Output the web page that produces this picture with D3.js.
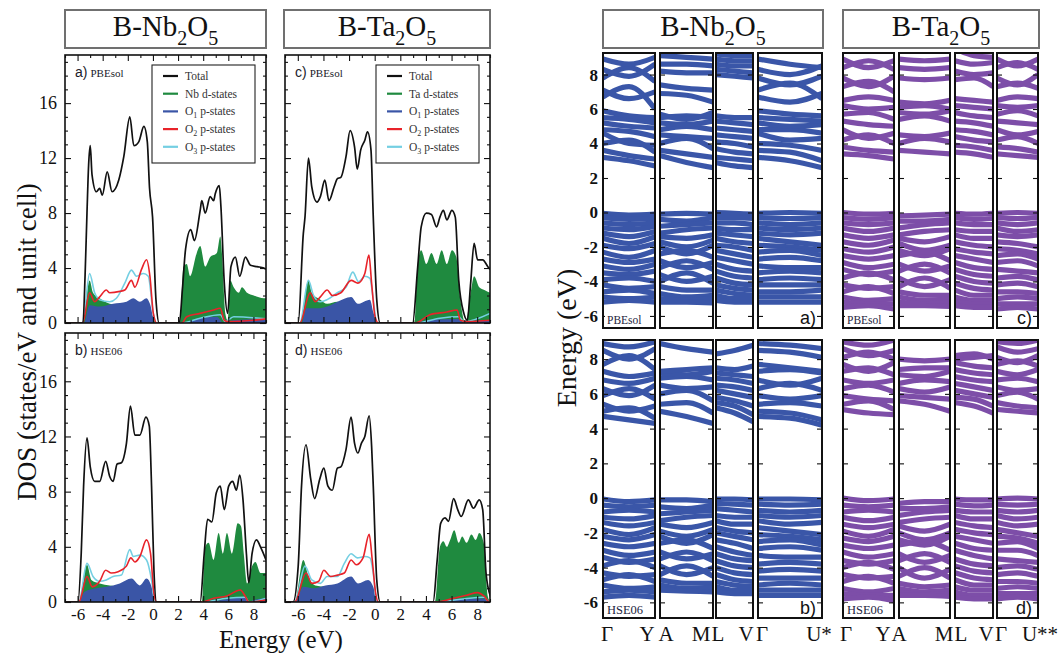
<!DOCTYPE html>
<html><head><meta charset="utf-8">
<script src="https://cdn.jsdelivr.net/npm/d3@7"></script>
<style>body{margin:0;background:#fff}svg{display:block}</style>
</head><body>
<svg id="chart" width="1060" height="653"></svg>
<script>
// ---------------- DATA ----------------
const dosEnergyDomain = [-7, 9];
const dosValueDomain = [0, 19.5];
const dosEnergyTicks = [-6, -4, -2, 0, 2, 4, 6, 8];
const dosEnergyMinor = [-7, -5, -3, -1, 1, 3, 5, 7, 9];
const dosValueTicks = [0, 4, 8, 12, 16];
const dosValueMinor = [1, 2, 3, 5, 6, 7, 9, 10, 11, 13, 14, 15, 17, 18, 19];
const legendLabelsNb = ["Total", "Nb d-states", "O1 p-states", "O2 p-states", "O3 p-states"];
const legendLabelsTa = ["Total", "Ta d-states", "O1 p-states", "O2 p-states", "O3 p-states"];

// DOS: [energy (eV), states/eV]
const nbPbeTotal = [[-7,0],[-5.57,0],[-5.4,3.5],[-5.25,8],[-5.12,11.5],[-4.99,12.9],[-4.85,10.8],[-4.5,9.55],[-4.24,9.8],[-4.03,9.3],[-3.64,11.0],[-3.25,9.55],[-2.72,10.4],[-2.32,12.1],[-1.84,15.0],[-1.52,12.9],[-1.12,13.2],[-0.72,14.3],[-0.45,13.2],[-0.27,9.8],[-0.03,7.7],[0.24,1.7],[0.5,0],[2.1,0],[2.35,2.5],[2.6,5.4],[3.01,6.8],[3.3,6.0],[3.76,8.2],[3.89,8.9],[4.16,8.0],[4.56,9.2],[4.83,8.9],[4.96,9.4],[5.28,10.0],[5.41,8.5],[5.68,2.9],[5.95,0.7],[6.21,4.1],[6.56,4.8],[6.91,3.4],[7.36,4.8],[7.76,4.2],[8.29,4.1],[8.83,4.0],[9,3.9]];
const nbPbeD = [[-7,0],[-5.6,0],[-5.35,1.5],[-5.04,3.1],[-4.77,2.2],[-4.24,1.8],[-3.44,1.4],[-2.64,1.3],[-1.57,1.3],[-0.51,0.9],[-0.1,0.6],[0.3,0],[2.15,0],[2.43,4.1],[2.69,4.3],[2.96,3.4],[3.49,5.1],[3.76,5.6],[4.16,4.1],[4.56,4.8],[5.09,5.1],[5.36,6.3],[5.49,5.1],[5.76,0.7],[5.95,0.2],[6.16,3.1],[6.43,2.6],[6.83,2.2],[7.09,2.6],[7.49,2.2],[8.03,2.0],[8.83,1.8],[9,1.8]];
const nbPbeO1 = [[-7,0],[-5.5,0],[-5.04,1.3],[-4.24,1.2],[-3.17,1.4],[-2.1,1.55],[-1.57,1.8],[-1.04,1.55],[-0.51,1.8],[-0.24,1.4],[0.16,0],[2.3,0],[3.76,0.35],[5.09,0.45],[5.6,0],[6.43,0.2],[9,0.3]];
const nbPbeO2 = [[-7,0],[-5.6,0],[-5.04,2.2],[-4.64,1.55],[-4.24,1.9],[-3.71,2.4],[-3.44,2.2],[-2.64,2.3],[-2.24,2.4],[-1.71,3.1],[-1.44,2.6],[-0.91,3.9],[-0.51,4.6],[-0.24,3.4],[0.03,0.7],[0.3,0],[2.3,0],[2.69,0.46],[3.76,0.7],[4.83,0.95],[5.36,1.07],[5.68,0.2],[6.0,0.1],[8.03,0.2],[9,0.3]];
const nbPbeO3 = [[-7,0],[-5.6,0],[-5.04,3.6],[-4.64,2.2],[-4.24,1.7],[-3.44,1.55],[-2.91,1.8],[-2.24,2.9],[-1.71,3.85],[-1.31,3.4],[-0.77,3.6],[-0.37,3.4],[0.03,0.7],[0.3,0],[2.3,0],[3.76,0.35],[5.36,0.6],[5.76,0.1],[6.43,0.45],[9,0.3]];

const taPbeTotal = [[-7,0],[-5.97,0],[-5.57,6.5],[-5.44,7.7],[-5.17,12.0],[-4.91,9.9],[-4.51,8.8],[-4.24,9.2],[-3.89,10.4],[-3.57,8.9],[-3.17,9.9],[-2.91,10.5],[-2.64,10.6],[-2.24,12.1],[-1.92,14.0],[-1.57,12.8],[-1.36,11.2],[-1.09,12.6],[-0.77,13.3],[-0.56,13.9],[-0.29,12.6],[-0.11,7.7],[0.16,1.7],[0.43,0],[2.96,0],[3.36,4.1],[3.63,7.0],[4.03,8.0],[4.43,7.9],[4.83,7.0],[5.09,7.7],[5.36,8.2],[5.63,7.5],[6.03,8.2],[6.29,7.7],[6.56,3.1],[6.96,0.7],[7.23,0.2],[7.49,2.9],[7.76,5.8],[8.03,4.6],[8.43,4.6],[8.83,4.1],[9,3.9]];
const taPbeD = [[-7,0],[-5.84,0],[-5.17,3.1],[-4.91,2.2],[-4.24,1.7],[-3.71,1.4],[-2.91,1.55],[-2.11,1.3],[-0.77,1.2],[-0.11,0.6],[0.2,0],[3.1,0],[3.36,4.3],[3.63,5.3],[4.03,4.3],[4.43,5.1],[4.83,4.3],[5.23,5.3],[5.63,4.3],[6.03,5.3],[6.37,4.8],[6.69,1.7],[7.09,0],[7.49,2.2],[7.76,3.4],[8.16,2.6],[8.56,2.4],[9,2.2]];
const taPbeO1 = [[-7,0],[-5.7,0],[-5.33,1.07],[-4.51,1.07],[-3.44,1.3],[-2.91,1.55],[-1.84,1.9],[-1.31,1.4],[-0.37,1.7],[-0.11,0.8],[0.2,0],[3.1,0],[4.5,0.25],[6.5,0.3],[7.0,0],[7.5,0.15],[9,0.2]];
const taPbeO2 = [[-7,0],[-5.84,0],[-5.04,2.2],[-4.64,1.55],[-4.24,1.9],[-3.71,2.4],[-3.31,2.0],[-2.64,2.2],[-1.84,3.1],[-1.31,2.9],[-0.77,3.6],[-0.45,4.95],[-0.24,2.9],[0.03,0.46],[0.3,0],[3.2,0],[4.3,0.6],[5.63,0.8],[6.43,0.95],[6.69,0.2],[7.2,0.1],[9,0.2]];
const taPbeO3 = [[-7,0],[-5.84,0],[-5.17,3.1],[-4.77,2.0],[-4.24,1.55],[-3.71,1.7],[-2.91,2.2],[-2.24,2.6],[-1.71,3.7],[-1.25,3.0],[-0.77,3.4],[-0.37,3.25],[-0.11,1.7],[0.16,0],[3.2,0],[5.09,0.35],[6.56,0.45],[6.96,0.1],[9,0.7]];

const nbHseTotal = [[-7,0],[-5.97,0],[-5.71,3.5],[-5.52,8.4],[-5.25,11.9],[-4.99,9.8],[-4.64,8.75],[-4.24,8.75],[-3.76,10.2],[-3.44,9.1],[-3.17,8.75],[-2.85,10.0],[-2.51,10.1],[-2.11,11.5],[-1.79,14.2],[-1.44,12.1],[-1.04,12.1],[-0.56,13.4],[-0.29,12.75],[-0.11,8.4],[0.08,2.3],[0.29,0],[3.76,0],[4.08,3.5],[4.35,6.0],[4.69,5.8],[5.04,7.9],[5.36,8.4],[5.68,6.7],[6.03,8.4],[6.35,8.75],[6.64,8.1],[6.91,9.2],[7.17,7.4],[7.44,3.5],[7.63,1.4],[7.89,3.5],[8.24,4.5],[8.56,4.0],[9,3.05]];
const nbHseD = [[-7,0],[-5.9,0],[-5.25,2.7],[-4.9,1.6],[-4.24,1.35],[-3.44,1.2],[-2.11,1.1],[-0.51,0.9],[0.03,0],[3.9,0],[4.16,4.0],[4.43,4.3],[4.83,3.05],[5.23,5.0],[5.57,3.5],[5.89,5.0],[6.29,3.5],[6.75,5.7],[7.01,5.5],[7.23,3.5],[7.49,1.35],[7.89,2.6],[8.16,2.9],[8.56,2.1],[9,2.1]];
const nbHseO1 = [[-7,0],[-5.9,0],[-5.44,0.75],[-4.51,1.0],[-3.71,1.1],[-2.64,1.35],[-1.71,1.7],[-1.04,1.2],[-0.51,1.7],[-0.11,1.1],[0.16,0],[4.0,0],[6.43,0.27],[7.36,0.34],[7.63,0],[8.03,0.15],[9,0.27]];
const nbHseO2 = [[-7,0],[-5.9,0],[-5.25,1.85],[-4.83,1.1],[-4.24,1.5],[-3.76,2.3],[-3.31,2.1],[-2.77,2.2],[-2.11,2.6],[-1.76,3.2],[-1.44,2.9],[-1.04,3.3],[-0.51,4.5],[-0.19,3.5],[0.08,0.6],[0.29,0],[3.9,0],[4.83,0.27],[5.89,0.44],[6.96,0.87],[7.36,0.4],[7.63,0],[9,0.15]];
const nbHseO3 = [[-7,0],[-5.9,0],[-5.25,2.8],[-4.77,1.85],[-4.24,1.5],[-3.71,1.6],[-3.17,1.85],[-2.51,1.95],[-1.84,3.8],[-1.57,3.3],[-1.04,3.4],[-0.51,3.05],[-0.11,1.6],[0.16,0],[4.0,0],[5.89,0.27],[7.36,0.34],[7.63,0],[9,0.27]];

const taHseTotal = [[-7,0],[-6.37,0],[-5.97,2.6],[-5.71,8.4],[-5.36,11.4],[-4.99,8.9],[-4.69,7.5],[-4.29,8.9],[-3.97,9.7],[-3.65,8.4],[-3.31,8.1],[-2.91,9.7],[-2.64,9.8],[-2.24,11.05],[-1.84,13.4],[-1.57,11.5],[-1.31,10.8],[-1.04,11.5],[-0.77,12.0],[-0.43,13.5],[-0.24,11.3],[-0.11,8.4],[0.16,1.6],[0.43,0],[4.56,0],[4.88,3.05],[5.15,5.7],[5.49,6.1],[5.76,5.85],[6.16,7.5],[6.48,6.7],[6.75,6.2],[7.31,7.4],[7.71,6.8],[8.16,7.4],[8.43,6.7],[8.69,2.1],[9.04,0.4]];
const taHseD = [[-7,0],[-6.24,0],[-5.57,3.05],[-5.17,1.85],[-4.64,1.2],[-3.71,1.1],[-2.37,1.0],[-0.51,0.87],[-0.11,0],[4.7,0],[5.09,4.0],[5.36,4.4],[5.63,4.0],[5.89,4.5],[6.21,5.2],[6.56,4.3],[6.83,4.75],[7.17,4.3],[7.55,4.9],[7.89,4.5],[8.16,5.0],[8.51,4.3],[8.83,0.4],[9.04,0]];
const taHseO1 = [[-7,0],[-6.2,0],[-5.57,1.1],[-4.77,1.0],[-3.84,1.2],[-2.91,1.35],[-1.84,1.85],[-1.31,1.35],[-0.51,1.6],[-0.11,1.1],[0.16,0],[4.7,0],[6.5,0.2],[8.5,0.25],[8.9,0],[9,0]];
const taHseO2 = [[-7,0],[-6.24,0],[-5.36,2.1],[-4.91,1.35],[-4.37,1.5],[-3.97,2.3],[-3.44,1.85],[-2.91,1.95],[-2.37,2.1],[-1.84,3.05],[-1.44,2.7],[-0.91,3.2],[-0.43,4.9],[-0.19,3.05],[0.08,0.6],[0.29,0],[4.7,0],[6.16,0.27],[7.23,0.5],[8.03,0.68],[8.56,0.4],[8.96,0],[9,0]];
const taHseO3 = [[-7,0],[-6.24,0],[-5.44,2.6],[-4.91,1.6],[-4.24,1.35],[-3.71,1.85],[-2.91,1.85],[-2.37,2.8],[-1.84,3.5],[-1.36,3.2],[-0.77,3.3],[-0.37,3.2],[-0.11,2.1],[0.16,0],[4.7,0],[6.69,0.2],[8.56,0.34],[8.96,0],[9,0]];

// Band structures: each row = one band, energies (eV) at start/mid/end of the 4 k-path segments
const bandEnergyTicks = [-6, -4, -2, 0, 2, 4, 6, 8];
const kLabelsNb = ["Γ", "Y", "A", "M", "L", "V", "Γ", "U*"];
const kLabelsTa = ["Γ", "Y", "A", "M", "L", "V", "Γ", "U**"];

const nbPbeBands = [
 [3.2,3.0,2.7, 3.3,2.9,2.6, 2.9,2.7,2.6, 3.2,3.0,2.6],
 [3.6,3.3,3.1, 3.6,3.4,3.2, 3.2,3.1,3.0, 3.6,3.5,3.0],
 [4.0,4.2,3.5, 4.0,4.3,3.7, 3.7,3.5,3.4, 4.0,3.9,3.6],
 [4.6,4.0,3.9, 4.5,4.4,4.3, 4.1,4.0,3.8, 4.6,4.2,4.3],
 [4.8,4.7,4.4, 4.8,5.0,4.8, 4.5,4.4,4.3, 4.8,4.8,4.6],
 [5.2,5.0,4.9, 5.2,5.1,5.3, 4.9,4.8,4.7, 5.2,5.0,5.1],
 [5.5,5.4,5.2, 5.5,5.6,5.5, 5.3,5.2,5.1, 5.5,5.4,5.3],
 [5.9,5.6,5.5, 5.7,5.4,5.8, 5.6,5.5,5.5, 5.9,5.7,5.6],
 [6.7,7.3,6.0, 6.9,6.8,6.4, 8.0,7.9,7.8, 6.7,6.4,6.9],
 [7.1,6.6,7.0, 7.4,7.2,7.1, 8.3,8.2,8.1, 7.1,7.5,6.6],
 [7.8,8.4,7.6, 8.2,8.1,8.1, 8.6,8.5,8.5, 7.8,7.4,7.9],
 [8.3,7.9,8.6, 8.6,8.6,8.5, 8.9,8.8,8.8, 8.3,8.0,8.5],
 [8.9,8.6,9.0, 9.1,9.0,8.9, 9.2,9.1,9.1, 8.9,8.6,8.4],
 [-0.05,-0.15,-0.1, -0.1,-0.05,-0.1, 0.0,-0.05,-0.1, -0.05,0.0,-0.05],
 [-0.3,-0.4,-0.35, -0.4,-0.5,-0.3, -0.3,-0.3,-0.35, -0.3,-0.35,-0.3],
 [-0.6,-0.7,-0.6, -0.8,-0.7,-0.6, -0.6,-0.6,-0.7, -0.6,-0.7,-0.6],
 [-0.9,-1.0,-0.8, -1.2,-1.0,-0.9, -0.9,-1.0,-1.0, -0.9,-1.0,-0.9],
 [-1.2,-1.4,-1.1, -1.4,-1.5,-1.3, -1.2,-1.3,-1.4, -1.2,-1.3,-1.2],
 [-1.5,-1.8,-1.4, -1.7,-2.0,-1.6, -1.5,-1.7,-1.8, -1.5,-1.7,-1.9],
 [-1.9,-2.1,-1.8, -2.0,-2.4,-1.9, -1.9,-2.0,-2.2, -1.9,-2.0,-2.2],
 [-2.3,-2.6,-2.2, -2.4,-2.2,-2.6, -2.2,-2.4,-2.6, -2.3,-2.2,-2.5],
 [-2.7,-2.9,-2.7, -2.8,-3.2,-2.9, -2.6,-2.8,-3.0, -2.7,-2.6,-2.8],
 [-3.1,-3.3,-3.0, -3.2,-2.8,-3.3, -3.0,-3.3,-3.4, -3.1,-3.2,-3.2],
 [-3.5,-3.6,-3.4, -3.6,-4.0,-3.7, -3.4,-3.7,-3.8, -3.5,-3.4,-3.5],
 [-3.9,-3.8,-4.0, -4.0,-3.5,-4.1, -3.8,-4.1,-4.2, -3.9,-3.8,-3.9],
 [-4.2,-4.4,-4.3, -4.3,-4.5,-4.5, -4.2,-4.4,-4.5, -4.2,-4.2,-4.2],
 [-4.6,-4.5,-4.7, -4.7,-4.9,-4.8, -4.5,-4.7,-4.8, -4.6,-4.6,-4.5],
 [-4.9,-5.0,-4.9, -5.0,-5.1,-5.0, -4.8,-5.0,-5.0, -4.9,-4.9,-4.9],
 [-5.2,-5.1,-5.2, -5.2,-5.2,-5.25, -5.1,-5.2,-5.2, -5.2,-5.2,-5.2]
];

const nbHseBands = [
 [4.7,4.5,4.3, 5.0,4.7,4.3, 5.2,4.9,4.4, 4.7,4.6,4.2],
 [5.0,5.2,4.6, 5.4,5.5,4.9, 5.5,5.3,4.8, 5.0,4.9,4.5],
 [5.4,5.0,5.3, 6.0,6.2,5.6, 5.8,5.6,5.3, 5.4,5.5,5.3],
 [5.9,6.3,5.7, 6.5,6.3,6.4, 6.2,6.0,5.8, 5.9,5.7,5.9],
 [6.3,5.9,6.5, 6.9,7.0,6.8, 6.5,6.4,6.2, 6.3,6.6,6.2],
 [6.8,6.6,6.9, 7.2,7.1,7.3, 6.9,6.8,6.6, 6.8,6.5,6.9],
 [7.3,7.0,7.2, 7.3,7.4,7.5, 7.2,7.1,7.0, 7.3,7.4,7.2],
 [7.7,8.2,7.4, 8.9,8.6,8.4, 7.5,7.4,7.6, 7.7,7.5,7.3],
 [8.5,8.0,8.6, 9.6,9.6,9.6, 8.3,8.5,8.8, 8.5,8.4,8.1],
 [8.9,8.7,9.0, 9.8,9.8,9.8, 9.6,9.6,9.6, 8.9,8.8,8.6],
 [-0.05,-0.2,-0.1, -0.1,-0.1,-0.2, -0.05,-0.05,-0.1, -0.05,-0.05,-0.1],
 [-0.4,-0.5,-0.4, -0.5,-0.6,-0.4, -0.3,-0.35,-0.4, -0.35,-0.4,-0.35],
 [-0.8,-0.7,-0.8, -0.9,-0.8,-0.7, -0.6,-0.7,-0.8, -0.7,-0.8,-0.7],
 [-1.1,-1.2,-1.0, -1.3,-1.1,-1.0, -1.0,-1.1,-1.1, -1.0,-1.1,-1.0],
 [-1.4,-1.6,-1.4, -1.5,-1.7,-1.4, -1.3,-1.5,-1.5, -1.3,-1.5,-1.4],
 [-1.8,-2.1,-1.7, -1.9,-2.2,-1.8, -1.7,-1.9,-2.0, -1.7,-1.9,-2.1],
 [-2.2,-2.4,-2.1, -2.2,-2.6,-2.1, -2.0,-2.2,-2.4, -2.1,-2.2,-2.4],
 [-2.6,-2.8,-2.6, -2.6,-2.4,-2.9, -2.4,-2.6,-2.9, -2.5,-2.4,-2.7],
 [-3.0,-3.3,-3.1, -3.1,-3.5,-3.2, -2.8,-3.1,-3.3, -2.9,-2.8,-3.0],
 [-3.4,-3.7,-3.5, -3.5,-3.1,-3.6, -3.2,-3.5,-3.6, -3.3,-3.4,-3.4],
 [-3.9,-3.6,-4.0, -3.9,-4.4,-4.0, -3.6,-3.9,-4.0, -3.8,-3.7,-3.8],
 [-4.3,-4.5,-4.4, -4.4,-3.9,-4.5, -4.0,-4.3,-4.4, -4.2,-4.1,-4.2],
 [-4.7,-4.4,-4.8, -4.7,-4.9,-4.9, -4.4,-4.7,-4.8, -4.6,-4.6,-4.6],
 [-5.0,-5.2,-5.1, -5.0,-5.2,-5.1, -4.8,-5.0,-5.1, -5.0,-4.9,-5.0],
 [-5.4,-5.3,-5.4, -5.2,-5.3,-5.3, -5.1,-5.3,-5.3, -5.3,-5.3,-5.3],
 [-5.7,-5.6,-5.7, -5.3,-5.35,-5.4, -5.4,-5.5,-5.5, -5.6,-5.6,-5.6]
];

const taPbeBands = [
 [3.4,3.3,3.1, 3.6,3.5,3.4, 3.5,3.4,3.2, 3.4,3.3,3.2],
 [3.8,3.6,3.5, 4.0,4.3,4.1, 3.9,3.8,3.6, 3.8,3.7,3.5],
 [4.2,4.5,4.0, 4.5,4.4,4.6, 4.4,4.2,4.1, 4.2,4.4,4.0],
 [4.8,4.3,4.6, 5.4,5.6,5.3, 4.8,4.7,4.5, 4.8,4.5,4.7],
 [5.3,5.1,5.0, 5.8,5.7,5.9, 5.3,5.2,5.0, 5.3,5.2,5.1],
 [5.7,5.8,5.4, 6.1,6.2,6.0, 5.8,5.6,5.5, 5.7,5.9,5.6],
 [6.2,6.0,6.1, 6.4,6.3,6.5, 6.2,6.1,6.0, 6.2,6.1,6.2],
 [6.5,6.7,6.5, 7.8,7.7,7.8, 6.6,6.5,6.4, 6.5,6.7,6.6],
 [7.3,7.6,7.0, 8.4,8.3,8.4, 7.7,7.8,7.3, 7.3,7.5,7.2],
 [7.8,7.3,7.9, 8.9,8.8,8.9, 8.2,8.0,8.1, 7.8,7.4,8.0],
 [8.4,8.8,8.3, 9.6,9.6,9.6, 8.8,8.6,8.7, 8.4,8.7,8.3],
 [8.9,8.4,8.8, 9.8,9.8,9.8, 9.5,9.1,9.0, 8.9,8.5,8.9],
 [0.0,-0.1,-0.05, -0.2,-0.15,-0.1, -0.05,-0.1,-0.05, -0.05,0.0,-0.05],
 [-0.3,-0.4,-0.3, -0.5,-0.5,-0.4, -0.3,-0.4,-0.35, -0.3,-0.35,-0.3],
 [-0.6,-0.7,-0.6, -0.9,-0.7,-0.6, -0.6,-0.7,-0.7, -0.6,-0.7,-0.6],
 [-0.9,-1.1,-0.9, -1.3,-1.1,-1.0, -1.0,-1.1,-1.1, -0.9,-1.1,-1.0],
 [-1.3,-1.5,-1.3, -1.5,-1.7,-1.4, -1.3,-1.5,-1.5, -1.3,-1.4,-1.3],
 [-1.7,-1.9,-1.6, -1.8,-2.2,-1.9, -1.7,-1.9,-2.0, -1.7,-1.8,-2.0],
 [-2.1,-2.3,-2.0, -2.2,-2.5,-2.1, -2.1,-2.3,-2.4, -2.1,-2.2,-2.4],
 [-2.5,-2.7,-2.5, -2.5,-2.3,-2.8, -2.5,-2.7,-2.9, -2.5,-2.4,-2.7],
 [-2.9,-3.2,-3.0, -3.0,-3.4,-3.1, -2.9,-3.2,-3.3, -2.9,-2.8,-3.1],
 [-3.3,-3.6,-3.4, -3.4,-3.0,-3.5, -3.3,-3.6,-3.7, -3.3,-3.4,-3.5],
 [-3.8,-3.5,-3.9, -3.8,-4.3,-3.9, -3.7,-4.0,-4.1, -3.8,-3.7,-3.9],
 [-4.2,-4.4,-4.3, -4.3,-3.8,-4.4, -4.1,-4.4,-4.5, -4.2,-4.1,-4.3],
 [-4.6,-4.3,-4.7, -4.6,-4.8,-4.8, -4.5,-4.8,-4.8, -4.6,-4.6,-4.7],
 [-4.9,-5.1,-5.0, -4.9,-5.1,-5.0, -4.9,-5.1,-5.1, -5.0,-4.9,-5.0],
 [-5.2,-5.3,-5.3, -5.2,-5.3,-5.2, -5.2,-5.3,-5.3, -5.3,-5.3,-5.3],
 [-5.5,-5.4,-5.6, -5.4,-5.4,-5.45, -5.4,-5.5,-5.5, -5.6,-5.5,-5.6]
];

const taHseBands = [
 [5.1,4.9,4.8, 5.6,5.4,5.0, 5.5,5.3,4.9, 5.1,5.0,4.9],
 [5.4,5.6,5.1, 5.9,5.8,5.7, 5.8,5.7,5.3, 5.5,5.3,5.2],
 [5.9,5.7,5.6, 6.3,6.1,6.4, 6.2,6.0,5.8, 5.9,6.1,5.7],
 [6.3,6.5,6.1, 6.6,6.8,6.7, 6.6,6.4,6.2, 6.4,6.2,6.3],
 [6.8,6.6,6.8, 7.1,7.0,7.3, 7.0,6.8,6.7, 6.8,6.9,6.7],
 [7.3,7.5,7.1, 7.4,7.5,7.5, 7.4,7.2,7.1, 7.3,7.1,7.4],
 [7.7,7.3,7.8, 8.0,7.9,8.0, 7.8,7.6,7.5, 7.7,7.9,7.6],
 [8.1,8.4,8.0, 9.6,9.6,9.6, 8.0,8.1,8.2, 8.1,7.8,8.2],
 [8.6,8.2,8.5, 9.7,9.7,9.7, 8.2,8.3,8.0, 8.7,8.4,8.6],
 [9.0,8.8,9.1, 9.8,9.8,9.8, 9.6,9.6,9.6, 9.0,8.9,9.1],
 [0.0,-0.15,-0.05, -0.3,-0.2,-0.2, -0.05,-0.1,-0.1, -0.05,0.0,-0.05],
 [-0.4,-0.5,-0.4, -0.6,-0.6,-0.5, -0.35,-0.45,-0.4, -0.35,-0.4,-0.35],
 [-0.8,-0.7,-0.8, -1.0,-0.8,-0.7, -0.7,-0.8,-0.8, -0.7,-0.8,-0.7],
 [-1.1,-1.3,-1.1, -1.4,-1.2,-1.1, -1.0,-1.2,-1.2, -1.0,-1.2,-1.1],
 [-1.5,-1.7,-1.5, -1.6,-1.9,-1.5, -1.4,-1.6,-1.7, -1.4,-1.6,-1.5],
 [-1.9,-2.2,-1.8, -2.0,-2.4,-2.0, -1.8,-2.0,-2.1, -1.8,-2.0,-2.2],
 [-2.3,-2.5,-2.2, -2.4,-2.7,-2.2, -2.2,-2.4,-2.6, -2.2,-2.3,-2.6],
 [-2.7,-2.9,-2.7, -2.7,-2.5,-3.0, -2.6,-2.9,-3.0, -2.6,-2.5,-2.9],
 [-3.1,-3.4,-3.2, -3.2,-3.7,-3.3, -3.0,-3.3,-3.5, -3.0,-3.0,-3.3],
 [-3.6,-3.8,-3.6, -3.6,-3.2,-3.7, -3.5,-3.8,-3.9, -3.5,-3.6,-3.7],
 [-4.0,-3.7,-4.1, -4.0,-4.6,-4.1, -3.9,-4.2,-4.3, -4.0,-3.9,-4.1],
 [-4.4,-4.6,-4.5, -4.5,-4.0,-4.6, -4.3,-4.6,-4.7, -4.4,-4.3,-4.5],
 [-4.8,-4.5,-4.9, -4.9,-5.1,-5.0, -4.7,-5.0,-5.0, -4.8,-4.8,-4.9],
 [-5.2,-5.4,-5.2, -5.2,-5.4,-5.3, -5.1,-5.3,-5.3, -5.2,-5.1,-5.2],
 [-5.5,-5.6,-5.6, -5.4,-5.55,-5.5, -5.4,-5.6,-5.6, -5.5,-5.5,-5.5],
 [-5.8,-5.7,-5.9, -5.6,-5.6,-5.65, -5.7,-5.8,-5.8, -5.8,-5.7,-5.8]
];

// ---------------- STYLE / LAYOUT ----------------
const serif = "'Liberation Serif','Times New Roman',Times,serif";
const sans = "'Liberation Sans',Arial,Helvetica,sans-serif";
const colTotal = "#111111", colD = "#1f8a3f", colO1 = "#3a55a6", colO2 = "#e8232a", colO3 = "#74cfe2";
const colNb = "#3a56a8", colTa = "#7d4ea8";

const svg = d3.select("#chart");

function rich(sel, parts, subSize, drop) {
  let prevSub = false;
  parts.forEach(p => {
    const isSub = p[1];
    const ts = sel.append("tspan").text(p[0]);
    if (isSub) ts.attr("font-size", subSize).attr("dy", prevSub ? 0 : drop);
    else if (prevSub) ts.attr("dy", -drop);
    prevSub = isSub;
  });
}

function splitLabel(s) {
  const m = s.match(/^O(\d)(.*)$/);
  if (m) return [["O", false], [m[1], true], [m[2], false]];
  return [[s, false]];
}

function titleBox(x0, x1, y0, y1, metal) {
  svg.append("rect").attr("x", x0).attr("y", y0).attr("width", x1 - x0).attr("height", y1 - y0)
    .attr("fill", "#fff").attr("stroke", "#707070").attr("stroke-width", 2);
  const t = svg.append("text").attr("x", (x0 + x1) / 2).attr("y", y0 + 26)
    .attr("text-anchor", "middle").attr("font-family", serif).attr("font-size", 29).attr("fill", "#111");
  rich(t, [["B-" + metal, false], ["2", true], ["O", false], ["5", true]], 20, 9);
}

function styleAxis(g, fontSize, weight) {
  g.select(".domain").remove();
  g.selectAll(".tick line").attr("stroke", "#111").attr("stroke-width", 1.1);
  g.selectAll("text").attr("font-family", serif).attr("font-size", fontSize)
    .attr("font-weight", weight || "normal").attr("fill", "#111");
}

function drawDos(cfg) {
  const x = d3.scaleLinear().domain(dosEnergyDomain).range([cfg.x0, cfg.x1]);
  const y = d3.scaleLinear().domain(dosValueDomain).range([cfg.y1, cfg.y0]);
  const id = "clip-" + cfg.tag;
  svg.append("clipPath").attr("id", id).append("rect")
    .attr("x", cfg.x0).attr("y", cfg.y0).attr("width", cfg.x1 - cfg.x0).attr("height", cfg.y1 - cfg.y0);
  const g = svg.append("g").attr("clip-path", `url(#${id})`);
  const area = d3.area().x(d => x(d[0])).y0(y(0)).y1(d => y(d[1])).curve(d3.curveMonotoneX);
  const line = d3.line().x(d => x(d[0])).y(d => y(d[1])).curve(d3.curveMonotoneX);
  g.append("path").datum(cfg.d).attr("d", area).attr("fill", colD);
  g.append("path").datum(cfg.o1).attr("d", area).attr("fill", colO1);
  g.append("path").datum(cfg.o3).attr("d", line).attr("fill", "none").attr("stroke", colO3).attr("stroke-width", 1.6);
  g.append("path").datum(cfg.o2).attr("d", line).attr("fill", "none").attr("stroke", colO2).attr("stroke-width", 1.6);
  g.append("path").datum(cfg.total).attr("d", line).attr("fill", "none").attr("stroke", colTotal).attr("stroke-width", 1.7);

  const left = svg.append("g").attr("transform", `translate(${cfg.x0},0)`)
    .call(d3.axisLeft(y).tickValues(dosValueTicks).tickSize(-6).tickPadding(8)
      .tickFormat(cfg.showY ? (d => String(d)) : () => ""));
  styleAxis(left, 18);
  const leftMinor = svg.append("g").attr("transform", `translate(${cfg.x0},0)`)
    .call(d3.axisLeft(y).tickValues(dosValueMinor).tickSize(-3).tickFormat(() => ""));
  styleAxis(leftMinor, 10);
  const right = svg.append("g").attr("transform", `translate(${cfg.x1},0)`)
    .call(d3.axisRight(y).tickValues(dosValueTicks).tickSize(-6).tickFormat(() => ""));
  styleAxis(right, 10);
  const rightMinor = svg.append("g").attr("transform", `translate(${cfg.x1},0)`)
    .call(d3.axisRight(y).tickValues(dosValueMinor).tickSize(-3).tickFormat(() => ""));
  styleAxis(rightMinor, 10);
  const bottom = svg.append("g").attr("transform", `translate(0,${cfg.y1})`)
    .call(d3.axisBottom(x).tickValues(dosEnergyTicks).tickSize(-6).tickPadding(6)
      .tickFormat(cfg.showX ? (d => String(d)) : () => ""));
  styleAxis(bottom, 17);
  const bottomMinor = svg.append("g").attr("transform", `translate(0,${cfg.y1})`)
    .call(d3.axisBottom(x).tickValues(dosEnergyMinor).tickSize(-3).tickFormat(() => ""));
  styleAxis(bottomMinor, 10);
  const top = svg.append("g").attr("transform", `translate(0,${cfg.y0})`)
    .call(d3.axisTop(x).tickValues(dosEnergyTicks).tickSize(-6).tickFormat(() => ""));
  styleAxis(top, 10);
  const topMinor = svg.append("g").attr("transform", `translate(0,${cfg.y0})`)
    .call(d3.axisTop(x).tickValues(dosEnergyMinor).tickSize(-3).tickFormat(() => ""));
  styleAxis(topMinor, 10);

  svg.append("rect").attr("x", cfg.x0).attr("y", cfg.y0).attr("width", cfg.x1 - cfg.x0).attr("height", cfg.y1 - cfg.y0)
    .attr("fill", "none").attr("stroke", "#111").attr("stroke-width", 1.6);

  const t = svg.append("text").attr("x", cfg.x0 + 10).attr("y", cfg.y0 + 22).attr("fill", "#1a1a2a");
  t.append("tspan").attr("font-family", sans).attr("font-size", 14).text(cfg.letter + ")");
  t.append("tspan").attr("font-family", serif).attr("font-size", 11).attr("dx", 3).text(cfg.method);

  if (cfg.legend) {
    const lx = cfg.x1 - 114, ly = cfg.y0 + 10, lw = 103, lh = 98;
    svg.append("rect").attr("x", lx).attr("y", ly).attr("width", lw).attr("height", lh)
      .attr("fill", "#fff").attr("stroke", "#222").attr("stroke-width", 1.1);
    const cols = [colTotal, colD, colO1, colO2, colO3];
    cfg.legend.forEach((lab, i) => {
      const yy = ly + 11 + i * 17.7;
      svg.append("line").attr("x1", lx + 11).attr("x2", lx + 26).attr("y1", yy).attr("y2", yy)
        .attr("stroke", cols[i]).attr("stroke-width", 2.2);
      const tt = svg.append("text").attr("x", lx + 33).attr("y", yy + 4)
        .attr("font-family", serif).attr("font-size", 11.5).attr("fill", "#333");
      rich(tt, splitLabel(lab), 8, 3);
    });
  }
}

function drawBands(cfg) {
  const y = d3.scaleLinear().domain(cfg.domain).range([cfg.y1, cfg.y0]);
  const kIdx = [0, 1, 2];
  cfg.subs.forEach((s, i) => {
    const x = d3.scalePoint().domain(kIdx).range(s);
    const id = `clip-${cfg.tag}-${i}`;
    svg.append("clipPath").attr("id", id).append("rect")
      .attr("x", s[0]).attr("y", cfg.y0).attr("width", s[1] - s[0]).attr("height", cfg.y1 - cfg.y0);
    const g = svg.append("g").attr("clip-path", `url(#${id})`);
    const line = d3.line().x((d, j) => x(j)).y(d => y(d)).curve(d3.curveMonotoneX);
    cfg.bands.forEach(b => {
      g.append("path").datum(b.slice(3 * i, 3 * i + 3)).attr("d", line)
        .attr("fill", "none").attr("stroke", cfg.color).attr("stroke-width", 5.2).attr("stroke-linecap", "butt");
    });
    const la = svg.append("g").attr("transform", `translate(${s[0]},0)`)
      .call(d3.axisLeft(y).tickValues(bandEnergyTicks).tickSize(-5).tickPadding(5)
        .tickFormat(cfg.showY && i === 0 ? (d => String(d)) : () => ""));
    styleAxis(la, 17, "bold");
    const ra = svg.append("g").attr("transform", `translate(${s[1]},0)`)
      .call(d3.axisRight(y).tickValues(bandEnergyTicks).tickSize(-5).tickFormat(() => ""));
    styleAxis(ra, 10);
    svg.append("rect").attr("x", s[0]).attr("y", cfg.y0).attr("width", s[1] - s[0]).attr("height", cfg.y1 - cfg.y0)
      .attr("fill", "none").attr("stroke", "#111").attr("stroke-width", 2);
  });
  const first = cfg.subs[0], last = cfg.subs[cfg.subs.length - 1];
  svg.append("rect").attr("x", first[0] + 2).attr("y", cfg.y1 - 15).attr("width", cfg.methodW).attr("height", 13).attr("fill", "#fff");
  svg.append("text").attr("x", first[0] + 4).attr("y", cfg.y1 - 4).attr("font-family", serif)
    .attr("font-size", cfg.methodSize).attr("fill", "#1c2440").text(cfg.method);
  svg.append("text").attr("x", last[1] - 6).attr("y", cfg.y1 - 4).attr("text-anchor", "end").attr("font-family", sans)
    .attr("font-size", 18).attr("fill", "#111").text(cfg.letter + ")");
}

// ---------------- DRAW ----------------
titleBox(65, 266, 10, 48, "Nb");
titleBox(284, 490, 10, 48, "Ta");
titleBox(603, 823, 10, 48, "Nb");
titleBox(843, 1039, 10, 48, "Ta");

drawDos({tag: "a", x0: 65, x1: 266, y0: 55, y1: 323, total: nbPbeTotal, d: nbPbeD, o1: nbPbeO1, o2: nbPbeO2, o3: nbPbeO3,
  showY: true, showX: false, letter: "a", method: "PBEsol", legend: legendLabelsNb});
drawDos({tag: "c", x0: 285, x1: 490, y0: 55, y1: 323, total: taPbeTotal, d: taPbeD, o1: taPbeO1, o2: taPbeO2, o3: taPbeO3,
  showY: false, showX: false, letter: "c", method: "PBEsol", legend: legendLabelsTa});
drawDos({tag: "b", x0: 65, x1: 266, y0: 333, y1: 602, total: nbHseTotal, d: nbHseD, o1: nbHseO1, o2: nbHseO2, o3: nbHseO3,
  showY: true, showX: true, letter: "b", method: "HSE06", legend: null});
drawDos({tag: "d", x0: 285, x1: 490, y0: 333, y1: 602, total: taHseTotal, d: taHseD, o1: taHseO1, o2: taHseO2, o3: taHseO3,
  showY: false, showX: true, letter: "d", method: "HSE06", legend: null});

svg.append("text").attr("transform", "translate(36,342) rotate(-90)").attr("text-anchor", "middle")
  .attr("font-family", serif).attr("font-size", 27).attr("fill", "#111").text("DOS (states/eV and unit cell)");
svg.append("text").attr("x", 281).attr("y", 648).attr("text-anchor", "middle")
  .attr("font-family", serif).attr("font-size", 25).attr("fill", "#111").text("Energy (eV)");

const nbSubs = [[603, 655], [660, 713], [716, 753], [758, 822]];
const taSubs = [[843, 894], [899, 950], [955, 993], [997, 1038]];
drawBands({tag: "a", subs: nbSubs, y0: 53, y1: 328, domain: [-6.7, 9.25], bands: nbPbeBands, color: colNb,
  showY: true, method: "PBEsol", methodSize: 11.5, methodW: 34, letter: "a"});
drawBands({tag: "b", subs: nbSubs, y0: 340, y1: 618, domain: [-6.9, 9.1], bands: nbHseBands, color: colNb,
  showY: true, method: "HSE06", methodSize: 12.5, methodW: 40, letter: "b"});
drawBands({tag: "c", subs: taSubs, y0: 53, y1: 328, domain: [-6.7, 9.25], bands: taPbeBands, color: colTa,
  showY: false, method: "PBEsol", methodSize: 11.5, methodW: 34, letter: "c"});
drawBands({tag: "d", subs: taSubs, y0: 340, y1: 618, domain: [-6.9, 9.1], bands: taHseBands, color: colTa,
  showY: false, method: "HSE06", methodSize: 12.5, methodW: 40, letter: "d"});

const kPosNb = [607, 647, 666, 701, 718, 746, 762, 819];
const kPosTa = [846, 883, 899, 944, 961, 986, 1001, 1040];
[[kLabelsNb, kPosNb], [kLabelsTa, kPosTa]].forEach(([labs, pos]) => {
  labs.forEach((l, i) => {
    svg.append("text").attr("x", pos[i]).attr("y", 641).attr("text-anchor", "middle")
      .attr("font-family", serif).attr("font-size", 21).attr("fill", "#111").text(l);
  });
});

svg.append("text").attr("transform", "translate(576,338) rotate(-90)").attr("text-anchor", "middle")
  .attr("font-family", serif).attr("font-size", 28).attr("fill", "#111").text("Energy (eV)");
</script>
</body></html>
